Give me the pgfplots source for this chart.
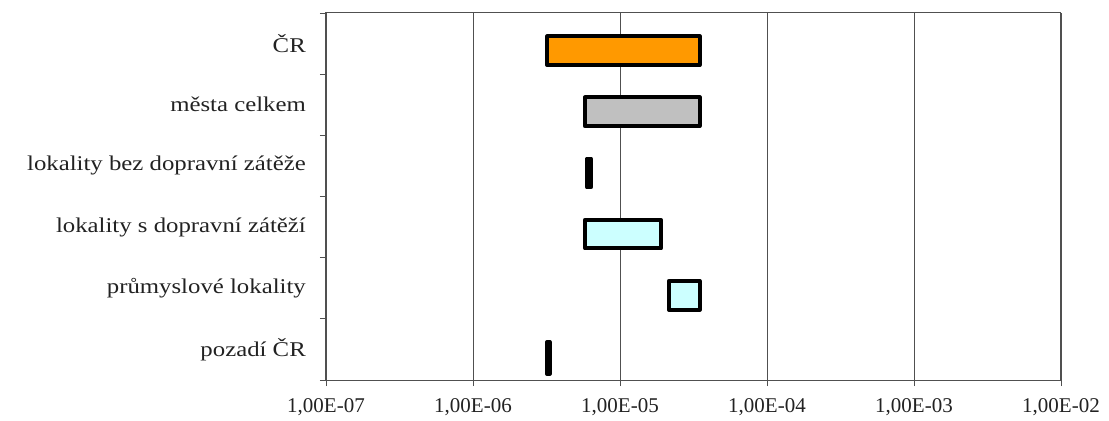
\documentclass[border=0pt]{standalone}
\usepackage{fontspec}
\setmainfont{Liberation Serif}
\newfontfamily\catfont[FakeStretch=1.18]{Liberation Serif}
\usepackage{pgfplots}
\pgfplotsset{compat=1.18}
\definecolor{barorange}{HTML}{FF9900}
\definecolor{bargrey}{HTML}{C0C0C0}
\definecolor{barcyan}{HTML}{CCFFFF}
\definecolor{axisgrey}{HTML}{505050}
\definecolor{txt}{HTML}{222222}
\begin{document}
\begin{tikzpicture}
\useasboundingbox (0,0) rectangle (1109bp,421bp);
\begin{axis}[
    at={(326bp,41bp)}, anchor=south west,
    scale only axis,
    width=735bp, height=367bp,
    xmode=log,
    xmin=1e-7, xmax=1e-2,
    ymin=0, ymax=6,
    xtick={1e-7,1e-6,1e-5,1e-4,1e-3,1e-2},
    xticklabels={{1,00E-07},{1,00E-06},{1,00E-05},{1,00E-04},{1,00E-03},{1,00E-02}},
    ytick={0.5,1.5,2.5,3.5,4.5,5.5},
    yticklabels={pozadí ČR, průmyslové lokality, lokality s dopravní zátěží,
                 lokality bez dopravní zátěže, města celkem, ČR},
    minor ytick={0,1,2,3,4,5,6},
    tick pos=left,
    tick align=outside,
    major tick length=6bp,
    minor tick length=6bp,
    every tick/.style={axisgrey, line width=0.9bp},
    every major y tick/.style={draw opacity=0},
    every minor x tick/.style={draw opacity=0},
    axis line style={axisgrey, line width=1bp},
    xmajorgrids,
    major grid style={axisgrey, line width=0.9bp},
    xticklabel style={font=\fontsize{21bp}{24bp}\selectfont, text=txt, inner sep=0pt, yshift=-12bp},
    yticklabel style={font=\catfont\fontsize{21bp}{24bp}\selectfont, text=txt, inner sep=0pt, anchor=east, xshift=-14bp},
]
% ČR
\addplot [draw=black, line width=4bp, line join=round, fill=barorange]
    coordinates {(3.2e-6,5.15) (3.48e-5,5.15) (3.48e-5,5.62) (3.2e-6,5.62)} -- cycle;
% města celkem
\addplot [draw=black, line width=4bp, line join=round, fill=bargrey]
    coordinates {(5.78e-6,4.15) (3.48e-5,4.15) (3.48e-5,4.62) (5.78e-6,4.62)} -- cycle;
% lokality bez dopravní zátěže
\addplot [draw=black, line width=4bp, line join=round, fill=black]
    coordinates {(5.95e-6,3.15) (6.35e-6,3.15) (6.35e-6,3.62) (5.95e-6,3.62)} -- cycle;
% lokality s dopravní zátěží
\addplot [draw=black, line width=4bp, line join=round, fill=barcyan]
    coordinates {(5.78e-6,2.15) (1.90e-5,2.15) (1.90e-5,2.62) (5.78e-6,2.62)} -- cycle;
% průmyslové lokality
\addplot [draw=black, line width=4bp, line join=round, fill=barcyan]
    coordinates {(2.15e-5,1.15) (3.48e-5,1.15) (3.48e-5,1.62) (2.15e-5,1.62)} -- cycle;
% pozadí ČR
\addplot [draw=black, line width=4bp, line join=round, fill=black]
    coordinates {(3.2e-6,0.10) (3.32e-6,0.10) (3.32e-6,0.62) (3.2e-6,0.62)} -- cycle;
\end{axis}
\end{tikzpicture}
\end{document}
